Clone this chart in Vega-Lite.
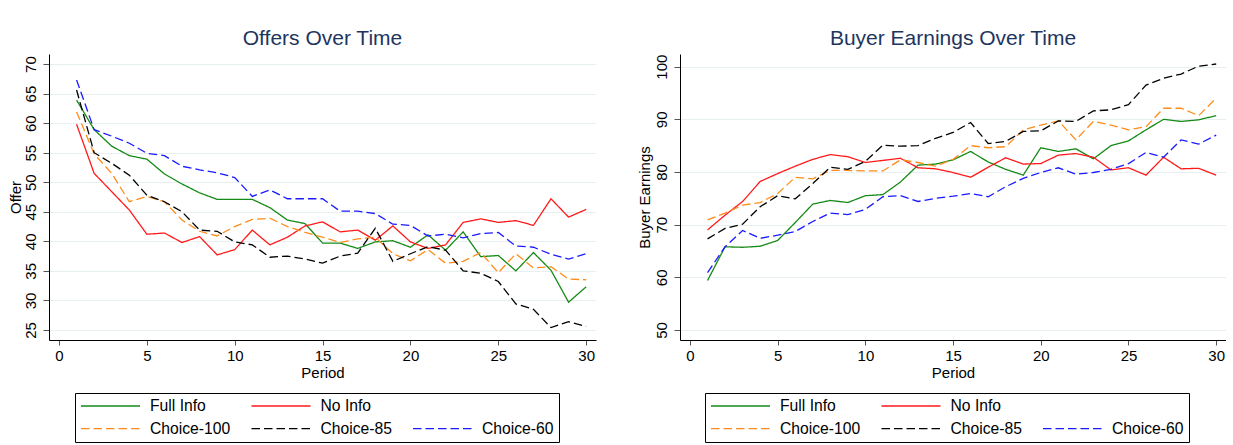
{
"$schema": "https://vega.github.io/schema/vega-lite/v6.json",
"background": "white",
"padding": {"top": 28, "left": 8, "right": 0, "bottom": 0},
"spacing": 41,
"datasets": {
"offers": [
{"period":1,"series":"Full Info","value":63.9},{"period":2,"series":"Full Info","value":58.9},{"period":3,"series":"Full Info","value":56.1},{"period":4,"series":"Full Info","value":54.5},{"period":5,"series":"Full Info","value":53.9},{"period":6,"series":"Full Info","value":51.4},{"period":7,"series":"Full Info","value":49.7},{"period":8,"series":"Full Info","value":48.2},{"period":9,"series":"Full Info","value":47.1},{"period":10,"series":"Full Info","value":47.1},{"period":11,"series":"Full Info","value":47.1},{"period":12,"series":"Full Info","value":45.7},{"period":13,"series":"Full Info","value":43.6},{"period":14,"series":"Full Info","value":43.0},{"period":15,"series":"Full Info","value":39.7},{"period":16,"series":"Full Info","value":39.7},{"period":17,"series":"Full Info","value":38.8},{"period":18,"series":"Full Info","value":39.9},{"period":19,"series":"Full Info","value":40.1},{"period":20,"series":"Full Info","value":39.0},{"period":21,"series":"Full Info","value":41.1},{"period":22,"series":"Full Info","value":38.5},{"period":23,"series":"Full Info","value":41.6},{"period":24,"series":"Full Info","value":37.4},{"period":25,"series":"Full Info","value":37.6},{"period":26,"series":"Full Info","value":35.0},{"period":27,"series":"Full Info","value":38.1},{"period":28,"series":"Full Info","value":35.1},{"period":29,"series":"Full Info","value":29.7},{"period":30,"series":"Full Info","value":32.3},
{"period":1,"series":"No Info","value":59.8},{"period":2,"series":"No Info","value":51.5},{"period":3,"series":"No Info","value":48.4},{"period":4,"series":"No Info","value":45.3},{"period":5,"series":"No Info","value":41.2},{"period":6,"series":"No Info","value":41.4},{"period":7,"series":"No Info","value":39.8},{"period":8,"series":"No Info","value":40.8},{"period":9,"series":"No Info","value":37.7},{"period":10,"series":"No Info","value":38.6},{"period":11,"series":"No Info","value":41.9},{"period":12,"series":"No Info","value":39.4},{"period":13,"series":"No Info","value":40.7},{"period":14,"series":"No Info","value":42.6},{"period":15,"series":"No Info","value":43.3},{"period":16,"series":"No Info","value":41.6},{"period":17,"series":"No Info","value":41.9},{"period":18,"series":"No Info","value":40.2},{"period":19,"series":"No Info","value":42.6},{"period":20,"series":"No Info","value":39.9},{"period":21,"series":"No Info","value":38.8},{"period":22,"series":"No Info","value":39.4},{"period":23,"series":"No Info","value":43.2},{"period":24,"series":"No Info","value":43.8},{"period":25,"series":"No Info","value":43.2},{"period":26,"series":"No Info","value":43.5},{"period":27,"series":"No Info","value":42.7},{"period":28,"series":"No Info","value":47.2},{"period":29,"series":"No Info","value":44.1},{"period":30,"series":"No Info","value":45.4},
{"period":1,"series":"Choice-100","value":61.9},{"period":2,"series":"Choice-100","value":54.8},{"period":3,"series":"Choice-100","value":51.5},{"period":4,"series":"Choice-100","value":46.7},{"period":5,"series":"Choice-100","value":47.6},{"period":6,"series":"Choice-100","value":46.7},{"period":7,"series":"Choice-100","value":43.6},{"period":8,"series":"Choice-100","value":41.7},{"period":9,"series":"Choice-100","value":40.9},{"period":10,"series":"Choice-100","value":42.5},{"period":11,"series":"Choice-100","value":43.7},{"period":12,"series":"Choice-100","value":43.9},{"period":13,"series":"Choice-100","value":42.5},{"period":14,"series":"Choice-100","value":41.5},{"period":15,"series":"Choice-100","value":40.7},{"period":16,"series":"Choice-100","value":39.8},{"period":17,"series":"Choice-100","value":40.4},{"period":18,"series":"Choice-100","value":40.7},{"period":19,"series":"Choice-100","value":37.9},{"period":20,"series":"Choice-100","value":36.7},{"period":21,"series":"Choice-100","value":38.6},{"period":22,"series":"Choice-100","value":36.3},{"period":23,"series":"Choice-100","value":36.6},{"period":24,"series":"Choice-100","value":38.1},{"period":25,"series":"Choice-100","value":34.7},{"period":26,"series":"Choice-100","value":37.9},{"period":27,"series":"Choice-100","value":35.5},{"period":28,"series":"Choice-100","value":35.7},{"period":29,"series":"Choice-100","value":33.6},{"period":30,"series":"Choice-100","value":33.5},
{"period":1,"series":"Choice-85","value":65.6},{"period":2,"series":"Choice-85","value":55.0},{"period":3,"series":"Choice-85","value":53.2},{"period":4,"series":"Choice-85","value":51.2},{"period":5,"series":"Choice-85","value":47.8},{"period":6,"series":"Choice-85","value":46.7},{"period":7,"series":"Choice-85","value":45.0},{"period":8,"series":"Choice-85","value":41.9},{"period":9,"series":"Choice-85","value":41.7},{"period":10,"series":"Choice-85","value":39.9},{"period":11,"series":"Choice-85","value":39.4},{"period":12,"series":"Choice-85","value":37.3},{"period":13,"series":"Choice-85","value":37.5},{"period":14,"series":"Choice-85","value":37.0},{"period":15,"series":"Choice-85","value":36.3},{"period":16,"series":"Choice-85","value":37.5},{"period":17,"series":"Choice-85","value":38.0},{"period":18,"series":"Choice-85","value":42.2},{"period":19,"series":"Choice-85","value":36.6},{"period":20,"series":"Choice-85","value":37.9},{"period":21,"series":"Choice-85","value":39.1},{"period":22,"series":"Choice-85","value":38.5},{"period":23,"series":"Choice-85","value":35.0},{"period":24,"series":"Choice-85","value":34.6},{"period":25,"series":"Choice-85","value":33.2},{"period":26,"series":"Choice-85","value":29.4},{"period":27,"series":"Choice-85","value":28.5},{"period":28,"series":"Choice-85","value":25.4},{"period":29,"series":"Choice-85","value":26.4},{"period":30,"series":"Choice-85","value":25.6},
{"period":1,"series":"Choice-60","value":67.3},{"period":2,"series":"Choice-60","value":58.9},{"period":3,"series":"Choice-60","value":57.8},{"period":4,"series":"Choice-60","value":56.6},{"period":5,"series":"Choice-60","value":54.9},{"period":6,"series":"Choice-60","value":54.5},{"period":7,"series":"Choice-60","value":52.7},{"period":8,"series":"Choice-60","value":52.1},{"period":9,"series":"Choice-60","value":51.6},{"period":10,"series":"Choice-60","value":50.8},{"period":11,"series":"Choice-60","value":47.6},{"period":12,"series":"Choice-60","value":48.7},{"period":13,"series":"Choice-60","value":47.2},{"period":14,"series":"Choice-60","value":47.2},{"period":15,"series":"Choice-60","value":47.2},{"period":16,"series":"Choice-60","value":45.1},{"period":17,"series":"Choice-60","value":45.1},{"period":18,"series":"Choice-60","value":44.7},{"period":19,"series":"Choice-60","value":42.9},{"period":20,"series":"Choice-60","value":42.7},{"period":21,"series":"Choice-60","value":40.9},{"period":22,"series":"Choice-60","value":41.2},{"period":23,"series":"Choice-60","value":40.6},{"period":24,"series":"Choice-60","value":41.3},{"period":25,"series":"Choice-60","value":41.5},{"period":26,"series":"Choice-60","value":39.2},{"period":27,"series":"Choice-60","value":39.0},{"period":28,"series":"Choice-60","value":37.8},{"period":29,"series":"Choice-60","value":37.0},{"period":30,"series":"Choice-60","value":37.9}
],
"earnings": [
{"period":1,"series":"Full Info","value":59.4},{"period":2,"series":"Full Info","value":65.8},{"period":3,"series":"Full Info","value":65.7},{"period":4,"series":"Full Info","value":65.9},{"period":5,"series":"Full Info","value":67.0},{"period":6,"series":"Full Info","value":70.4},{"period":7,"series":"Full Info","value":73.9},{"period":8,"series":"Full Info","value":74.6},{"period":9,"series":"Full Info","value":74.2},{"period":10,"series":"Full Info","value":75.5},{"period":11,"series":"Full Info","value":75.7},{"period":12,"series":"Full Info","value":78.1},{"period":13,"series":"Full Info","value":81.3},{"period":14,"series":"Full Info","value":81.5},{"period":15,"series":"Full Info","value":82.3},{"period":16,"series":"Full Info","value":83.9},{"period":17,"series":"Full Info","value":81.9},{"period":18,"series":"Full Info","value":80.5},{"period":19,"series":"Full Info","value":79.4},{"period":20,"series":"Full Info","value":84.6},{"period":21,"series":"Full Info","value":83.9},{"period":22,"series":"Full Info","value":84.4},{"period":23,"series":"Full Info","value":82.5},{"period":24,"series":"Full Info","value":85.0},{"period":25,"series":"Full Info","value":85.9},{"period":26,"series":"Full Info","value":88.0},{"period":27,"series":"Full Info","value":90.0},{"period":28,"series":"Full Info","value":89.6},{"period":29,"series":"Full Info","value":89.9},{"period":30,"series":"Full Info","value":90.7},
{"period":1,"series":"No Info","value":69.0},{"period":2,"series":"No Info","value":71.8},{"period":3,"series":"No Info","value":74.4},{"period":4,"series":"No Info","value":78.2},{"period":5,"series":"No Info","value":79.7},{"period":6,"series":"No Info","value":81.1},{"period":7,"series":"No Info","value":82.4},{"period":8,"series":"No Info","value":83.3},{"period":9,"series":"No Info","value":82.9},{"period":10,"series":"No Info","value":81.8},{"period":11,"series":"No Info","value":82.2},{"period":12,"series":"No Info","value":82.6},{"period":13,"series":"No Info","value":80.8},{"period":14,"series":"No Info","value":80.6},{"period":15,"series":"No Info","value":79.9},{"period":16,"series":"No Info","value":79.0},{"period":17,"series":"No Info","value":80.9},{"period":18,"series":"No Info","value":82.7},{"period":19,"series":"No Info","value":81.5},{"period":20,"series":"No Info","value":81.6},{"period":21,"series":"No Info","value":83.2},{"period":22,"series":"No Info","value":83.5},{"period":23,"series":"No Info","value":82.8},{"period":24,"series":"No Info","value":80.4},{"period":25,"series":"No Info","value":80.8},{"period":26,"series":"No Info","value":79.4},{"period":27,"series":"No Info","value":82.8},{"period":28,"series":"No Info","value":80.6},{"period":29,"series":"No Info","value":80.7},{"period":30,"series":"No Info","value":79.4},
{"period":1,"series":"Choice-100","value":70.9},{"period":2,"series":"Choice-100","value":72.2},{"period":3,"series":"Choice-100","value":73.7},{"period":4,"series":"Choice-100","value":74.2},{"period":5,"series":"Choice-100","value":75.9},{"period":6,"series":"Choice-100","value":79.0},{"period":7,"series":"Choice-100","value":78.7},{"period":8,"series":"Choice-100","value":80.3},{"period":9,"series":"Choice-100","value":80.3},{"period":10,"series":"Choice-100","value":80.2},{"period":11,"series":"Choice-100","value":80.2},{"period":12,"series":"Choice-100","value":82.3},{"period":13,"series":"Choice-100","value":81.8},{"period":14,"series":"Choice-100","value":81.1},{"period":15,"series":"Choice-100","value":82.4},{"period":16,"series":"Choice-100","value":85.0},{"period":17,"series":"Choice-100","value":84.6},{"period":18,"series":"Choice-100","value":84.8},{"period":19,"series":"Choice-100","value":88.0},{"period":20,"series":"Choice-100","value":88.9},{"period":21,"series":"Choice-100","value":89.7},{"period":22,"series":"Choice-100","value":86.1},{"period":23,"series":"Choice-100","value":89.6},{"period":24,"series":"Choice-100","value":88.9},{"period":25,"series":"Choice-100","value":88.0},{"period":26,"series":"Choice-100","value":88.6},{"period":27,"series":"Choice-100","value":92.1},{"period":28,"series":"Choice-100","value":92.1},{"period":29,"series":"Choice-100","value":90.7},{"period":30,"series":"Choice-100","value":94.0},
{"period":1,"series":"Choice-85","value":67.3},{"period":2,"series":"Choice-85","value":69.3},{"period":3,"series":"Choice-85","value":70.1},{"period":4,"series":"Choice-85","value":73.4},{"period":5,"series":"Choice-85","value":75.5},{"period":6,"series":"Choice-85","value":74.9},{"period":7,"series":"Choice-85","value":77.8},{"period":8,"series":"Choice-85","value":80.9},{"period":9,"series":"Choice-85","value":80.5},{"period":10,"series":"Choice-85","value":82.0},{"period":11,"series":"Choice-85","value":85.1},{"period":12,"series":"Choice-85","value":84.9},{"period":13,"series":"Choice-85","value":85.0},{"period":14,"series":"Choice-85","value":86.4},{"period":15,"series":"Choice-85","value":87.5},{"period":16,"series":"Choice-85","value":89.4},{"period":17,"series":"Choice-85","value":85.4},{"period":18,"series":"Choice-85","value":85.8},{"period":19,"series":"Choice-85","value":87.7},{"period":20,"series":"Choice-85","value":87.8},{"period":21,"series":"Choice-85","value":89.7},{"period":22,"series":"Choice-85","value":89.6},{"period":23,"series":"Choice-85","value":91.6},{"period":24,"series":"Choice-85","value":91.8},{"period":25,"series":"Choice-85","value":92.8},{"period":26,"series":"Choice-85","value":96.5},{"period":27,"series":"Choice-85","value":97.8},{"period":28,"series":"Choice-85","value":98.6},{"period":29,"series":"Choice-85","value":100.1},{"period":30,"series":"Choice-85","value":100.5},
{"period":1,"series":"Choice-60","value":60.9},{"period":2,"series":"Choice-60","value":65.8},{"period":3,"series":"Choice-60","value":68.9},{"period":4,"series":"Choice-60","value":67.4},{"period":5,"series":"Choice-60","value":68.0},{"period":6,"series":"Choice-60","value":68.7},{"period":7,"series":"Choice-60","value":70.6},{"period":8,"series":"Choice-60","value":72.2},{"period":9,"series":"Choice-60","value":71.9},{"period":10,"series":"Choice-60","value":72.9},{"period":11,"series":"Choice-60","value":75.3},{"period":12,"series":"Choice-60","value":75.5},{"period":13,"series":"Choice-60","value":74.4},{"period":14,"series":"Choice-60","value":75.0},{"period":15,"series":"Choice-60","value":75.4},{"period":16,"series":"Choice-60","value":75.9},{"period":17,"series":"Choice-60","value":75.3},{"period":18,"series":"Choice-60","value":77.2},{"period":19,"series":"Choice-60","value":78.8},{"period":20,"series":"Choice-60","value":79.9},{"period":21,"series":"Choice-60","value":80.8},{"period":22,"series":"Choice-60","value":79.6},{"period":23,"series":"Choice-60","value":79.9},{"period":24,"series":"Choice-60","value":80.5},{"period":25,"series":"Choice-60","value":81.6},{"period":26,"series":"Choice-60","value":83.7},{"period":27,"series":"Choice-60","value":82.8},{"period":28,"series":"Choice-60","value":86.1},{"period":29,"series":"Choice-60","value":85.3},{"period":30,"series":"Choice-60","value":87.0}
]
},
"hconcat": [
{
"width": 547, "height": 286,
"title": {"text": "Offers Over Time", "frame": "group", "anchor": "middle", "fontSize": 21, "fontWeight": "normal", "color": "#1e355e", "offset": 5},
"data": {"name": "offers"},
"mark": {"type": "line", "strokeWidth": 1.3},
"encoding": {
"x": {"field": "period", "type": "quantitative", "scale": {"domain": [-0.57, 30.56], "nice": false, "zero": false}, "axis": {"values": [0,5,10,15,20,25,30], "grid": false, "title": "Period", "tickSize": 5, "labelPadding": 3, "titlePadding": 2}},
"y": {"field": "value", "type": "quantitative", "scale": {"domain": [23.3, 71.7], "nice": false, "zero": false}, "axis": {"values": [25,30,35,40,45,50,55,60,65,70], "title": "Offer", "tickSize": 6, "labelPadding": 8, "labelAngle": -90, "labelAlign": "center", "labelBaseline": "alphabetic", "titleBaseline": "alphabetic", "titlePadding": 3}},
"color": {"field": "series", "type": "nominal", "scale": {"domain": ["Full Info","No Info"," ","Choice-100","Choice-85","Choice-60"], "range": ["#168a16","#ff1a1a","#ffffff","#ff8c1a","#000000","#1a1aff"]},
 "legend": {"orient": "none", "legendX": 26, "legendY": 339, "columns": 3, "direction": "horizontal", "title": null, "symbolType": "stroke", "symbolSize": 3481, "symbolStrokeWidth": 1.3, "clipHeight": 16, "labelFontSize": 15.7, "labelOffset": 9, "columnPadding": 19.5, "rowPadding": 6.7, "padding": 5, "strokeColor": "#000000", "gridAlign": "each", "labelLimit": 300}},
"strokeDash": {"field": "series", "type": "nominal", "scale": {"domain": ["Full Info","No Info"," ","Choice-100","Choice-85","Choice-60"], "range": [[1,0],[1,0],[1,0],[8.5,4],[8.5,4],[8.5,4]]},
 "legend": {"orient": "none", "legendX": 26, "legendY": 339, "columns": 3, "direction": "horizontal", "title": null, "symbolType": "stroke", "symbolSize": 3481, "symbolStrokeWidth": 1.3, "clipHeight": 16, "labelFontSize": 15.7, "labelOffset": 9, "columnPadding": 19.5, "rowPadding": 6.7, "padding": 5, "strokeColor": "#000000", "gridAlign": "each", "labelLimit": 300}}
}
},
{
"width": 546, "height": 286,
"title": {"text": "Buyer Earnings Over Time", "frame": "group", "anchor": "middle", "fontSize": 21, "fontWeight": "normal", "color": "#1e355e", "offset": 5},
"data": {"name": "earnings"},
"mark": {"type": "line", "strokeWidth": 1.3},
"encoding": {
"x": {"field": "period", "type": "quantitative", "scale": {"domain": [-0.57, 30.56], "nice": false, "zero": false}, "axis": {"values": [0,5,10,15,20,25,30], "grid": false, "title": "Period", "tickSize": 5, "labelPadding": 3, "titlePadding": 2}},
"y": {"field": "value", "type": "quantitative", "scale": {"domain": [48.1, 102.4], "nice": false, "zero": false}, "axis": {"values": [50,60,70,80,90,100], "title": "Buyer Earnings", "tickSize": 6, "labelPadding": 8, "labelAngle": -90, "labelAlign": "center", "labelBaseline": "alphabetic", "titleBaseline": "alphabetic", "titlePadding": 5}},
"color": {"field": "series", "type": "nominal", "scale": {"domain": ["Full Info","No Info"," ","Choice-100","Choice-85","Choice-60"], "range": ["#168a16","#ff1a1a","#ffffff","#ff8c1a","#000000","#1a1aff"]},
 "legend": {"orient": "none", "legendX": 25, "legendY": 339, "columns": 3, "direction": "horizontal", "title": null, "symbolType": "stroke", "symbolSize": 3481, "symbolStrokeWidth": 1.3, "clipHeight": 16, "labelFontSize": 15.7, "labelOffset": 9, "columnPadding": 19.5, "rowPadding": 6.7, "padding": 5, "strokeColor": "#000000", "gridAlign": "each", "labelLimit": 300}},
"strokeDash": {"field": "series", "type": "nominal", "scale": {"domain": ["Full Info","No Info"," ","Choice-100","Choice-85","Choice-60"], "range": [[1,0],[1,0],[1,0],[8.5,4],[8.5,4],[8.5,4]]},
 "legend": {"orient": "none", "legendX": 25, "legendY": 339, "columns": 3, "direction": "horizontal", "title": null, "symbolType": "stroke", "symbolSize": 3481, "symbolStrokeWidth": 1.3, "clipHeight": 16, "labelFontSize": 15.7, "labelOffset": 9, "columnPadding": 19.5, "rowPadding": 6.7, "padding": 5, "strokeColor": "#000000", "gridAlign": "each", "labelLimit": 300}}
}
}
],
"resolve": {"scale": {"color": "independent", "strokeDash": "independent", "y": "independent", "x": "independent"}, "legend": {"color": "independent", "strokeDash": "independent"}},
"config": {
"font": "Liberation Sans",
"view": {"stroke": null},
"axis": {"domainColor": "#000000", "domainWidth": 1, "tickColor": "#555555", "tickWidth": 1, "gridColor": "#e8eff1", "gridWidth": 1, "labelFont": "Liberation Sans", "labelFontSize": 15, "labelColor": "#000000", "titleFont": "Liberation Sans", "titleFontSize": 15, "titleFontWeight": "normal", "titleColor": "#000000"},
"legend": {"labelFont": "Liberation Sans", "labelColor": "#000000"},
"title": {"font": "Liberation Sans"}
}
}
